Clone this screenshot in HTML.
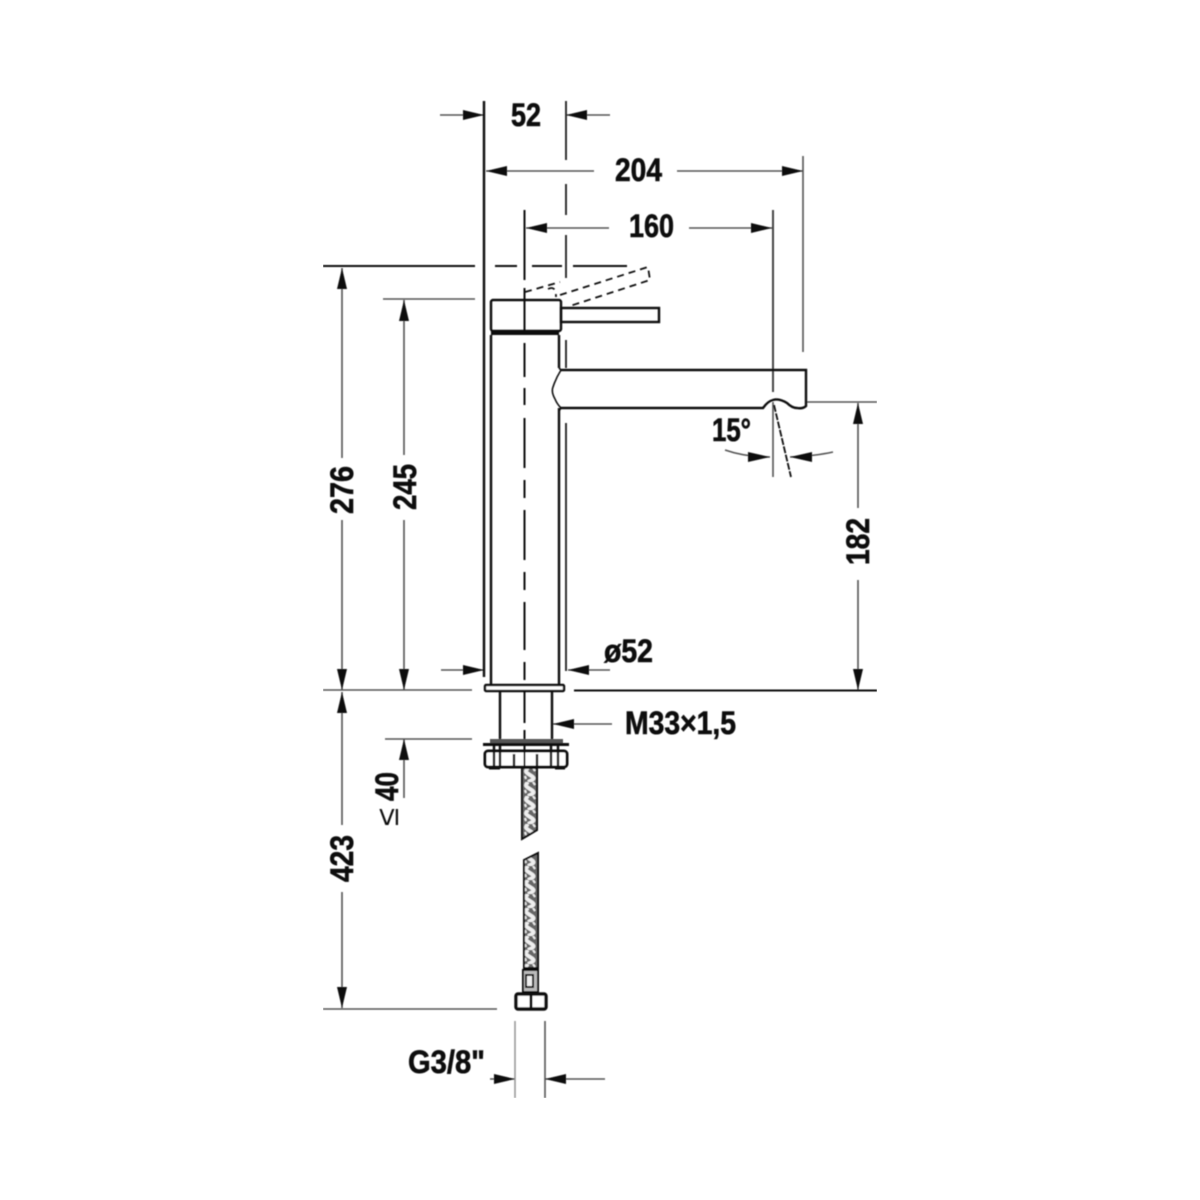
<!DOCTYPE html>
<html><head><meta charset="utf-8"><style>
html,body{margin:0;padding:0;background:#fff}
svg{display:block}
text{font-family:"Liberation Sans",sans-serif;font-weight:700;font-size:32px;fill:#111;stroke:#111;stroke-width:.6px}
</style></head><body>
<svg width="1200" height="1200" viewBox="0 0 1200 1200" xmlns="http://www.w3.org/2000/svg">
<defs>
<pattern id="h" x="523" y="768" width="14" height="14" patternUnits="userSpaceOnUse">
<rect width="14" height="14" fill="#666"/>
<path d="M5 0C2 3 2 4 7 7S12 11 5 14" stroke="#eee" stroke-width="3.8" fill="none"/>
<path d="M10 0L12 3M2 8L3 11" stroke="#eee" stroke-width="2"/>
</pattern>
<filter id="b" x="0" y="0" width="100%" height="100%"><feGaussianBlur stdDeviation="0.4"/></filter>
</defs>
<g filter="url(#b)">
<!-- extension and dimension lines -->
<g stroke="#555" stroke-width="1.6" fill="none">
<path d="M440 115H484M566 115H610M486 171H594M677 171H803M526 228H609M689 228H772"/>
<path d="M803 156V352M383 299H475M806 402H877M342 268V458M342 520V690M404 300V455M404 520V690M858 403V508M858 580V690"/>
<path d="M342 692V825M342 892V1008M323 1009H497M404 739V798M385 739H472M441 670H484M568 670H610M553 724H612"/>
<path d="M323 690H472M490 1079H515M545 1079H605"/>
<path d="M773 402V477M725 450Q745 457 770 457M790 457Q815 456 833 452"/>
<path d="M515 1021V1098" stroke="#999"/>
<path d="M545 1021V1098"/>
</g>
<g stroke="#111" stroke-width="2" fill="none">
<path d="M484 101V677" stroke-width="2.4"/>
<path d="M566 101V160M566 184V215M566 235V278M566 340V368M566 423V671" stroke="#333" stroke-width="2"/>
<path d="M773 210V392" stroke="#444"/>
<path d="M524.5 210V280M524.5 288V335M524.5 343V377M524.5 388V405M524.5 418V468M524.5 480V498M524.5 510V560M524.5 572V590M524.5 602V650M524.5 662V680M524.5 688V723M524.5 730V746M524.5 752V770"/>
<path d="M323 266H475M495 266H517M532 266H562M573 266H627"/>
<path d="M574 690.5H877"/>
<path d="M774 405L791 477" stroke-dasharray="7 1.5" stroke-width="1.8"/>
<path d="M525 292L560 282M548 289Q556 285 556 297M560 295L648 267L650 280L570 306" stroke-dasharray="7 5" stroke-width="1.8"/>
</g>
<!-- arrowheads -->
<g fill="#111">
<path d="M484 115l-21-5v10zM566 115l21-5v10zM486 171l21-5v10zM803 171l-21-5v10zM526 228l21-5v10zM772 228l-21-5v10z"/>
<path d="M342 268l-5 21h10zM342 690l-5-21h10zM404 300l-5 21h10zM404 690l-5-21h10zM858 403l-5 21h10zM858 690l-5-21h10z"/>
<path d="M342 692l-5 21h10zM342 1008l-5-21h10zM404 739l-5 21h10z"/>
<path d="M484 670l-21-5v10zM568 670l21-5v10zM553 724l21-5v10zM515 1079l-21-5v10zM545 1079l21-5v10z"/>
<path d="M770 457l-22-5v10zM790 457l22-5v10z"/>
</g>
<!-- faucet -->
<g stroke="#111" stroke-width="2.4" fill="#fff">
<rect x="491" y="300" width="70" height="31" rx="2" fill="none"/>
<rect x="561" y="308" width="98" height="14" fill="none"/>
<path d="M491 333H559" stroke-width="4"/>
<path d="M491 335V685M559 335V368M559 408V685" fill="none"/>
<path d="M561 370H806V406Q803 409 797 408Q792 408 787 403Q779 398 773 400Q768 401 763 408H561" fill="none"/>
<path d="M559 368L561 370Q556 378 553 387Q551 392 555 399Q557 404 561 408L559 411" fill="none" stroke-width="1.6"/>
<rect x="485" y="685" width="79" height="6" rx="1"/>
<path d="M500 692V740M552 692V740" fill="none"/>
<rect x="490" y="739" width="73" height="4" fill="#555" stroke="none"/>
<rect x="483" y="743" width="86" height="3" fill="#111" stroke="none"/>
<rect x="485" y="751" width="82" height="16" rx="3" stroke-width="3"/>
<path d="M494 746V767M500 746V767M551 746V767M558 746V767M514 754V766M537 754V766" fill="none" stroke-width="2.4"/>
<path d="M489 768H500M555 768H565" stroke-width="3"/>
</g>
<!-- centre line through the nut -->
<path d="M524.5 746V770" stroke="#111" stroke-width="2"/>
<!-- hose -->
<path d="M522 768H537V830L522 839Z" fill="url(#h)" stroke="#111" stroke-width="2"/>
<path d="M524 860L538 853V968H524Z" fill="url(#h)" stroke="#111" stroke-width="2"/>
<g stroke="#111" fill="#fff">
<rect x="523" y="970" width="15" height="22" stroke-width="2" fill="#bbb"/>
<rect x="526" y="975" width="7" height="12" stroke-width="2" fill="#eee"/>
<rect x="516" y="994" width="30" height="15" rx="2" stroke-width="3.4"/>
<path d="M531 994V1009" stroke-width="3"/>
</g>
<!-- labels -->
<text x="511" y="126" textLength="30" lengthAdjust="spacingAndGlyphs">52</text>
<text x="615" y="181" textLength="47" lengthAdjust="spacingAndGlyphs">204</text>
<text x="629" y="237" textLength="45" lengthAdjust="spacingAndGlyphs">160</text>
<text x="712" y="441" textLength="39" lengthAdjust="spacingAndGlyphs">15°</text>
<text x="604" y="662" textLength="49" lengthAdjust="spacingAndGlyphs">ø52</text>
<text x="625" y="734" textLength="111" lengthAdjust="spacingAndGlyphs">M33×1,5</text>
<text x="408" y="1073" textLength="77" lengthAdjust="spacingAndGlyphs">G3/8"</text>
<text transform="translate(353 514) rotate(-90)" textLength="48" lengthAdjust="spacingAndGlyphs">276</text>
<text transform="translate(416 510) rotate(-90)" textLength="46" lengthAdjust="spacingAndGlyphs">245</text>
<text transform="translate(869 565) rotate(-90)" textLength="47" lengthAdjust="spacingAndGlyphs">182</text>
<text transform="translate(353 882) rotate(-90)" textLength="47" lengthAdjust="spacingAndGlyphs">423</text>
<text transform="translate(398 801) rotate(-90)" textLength="29" lengthAdjust="spacingAndGlyphs">40</text>
<text transform="translate(398 826) rotate(-90)" textLength="18" lengthAdjust="spacingAndGlyphs" style="font-weight:400;font-size:31px;stroke-width:0">≤</text>
</g>
</svg>
</body></html>
